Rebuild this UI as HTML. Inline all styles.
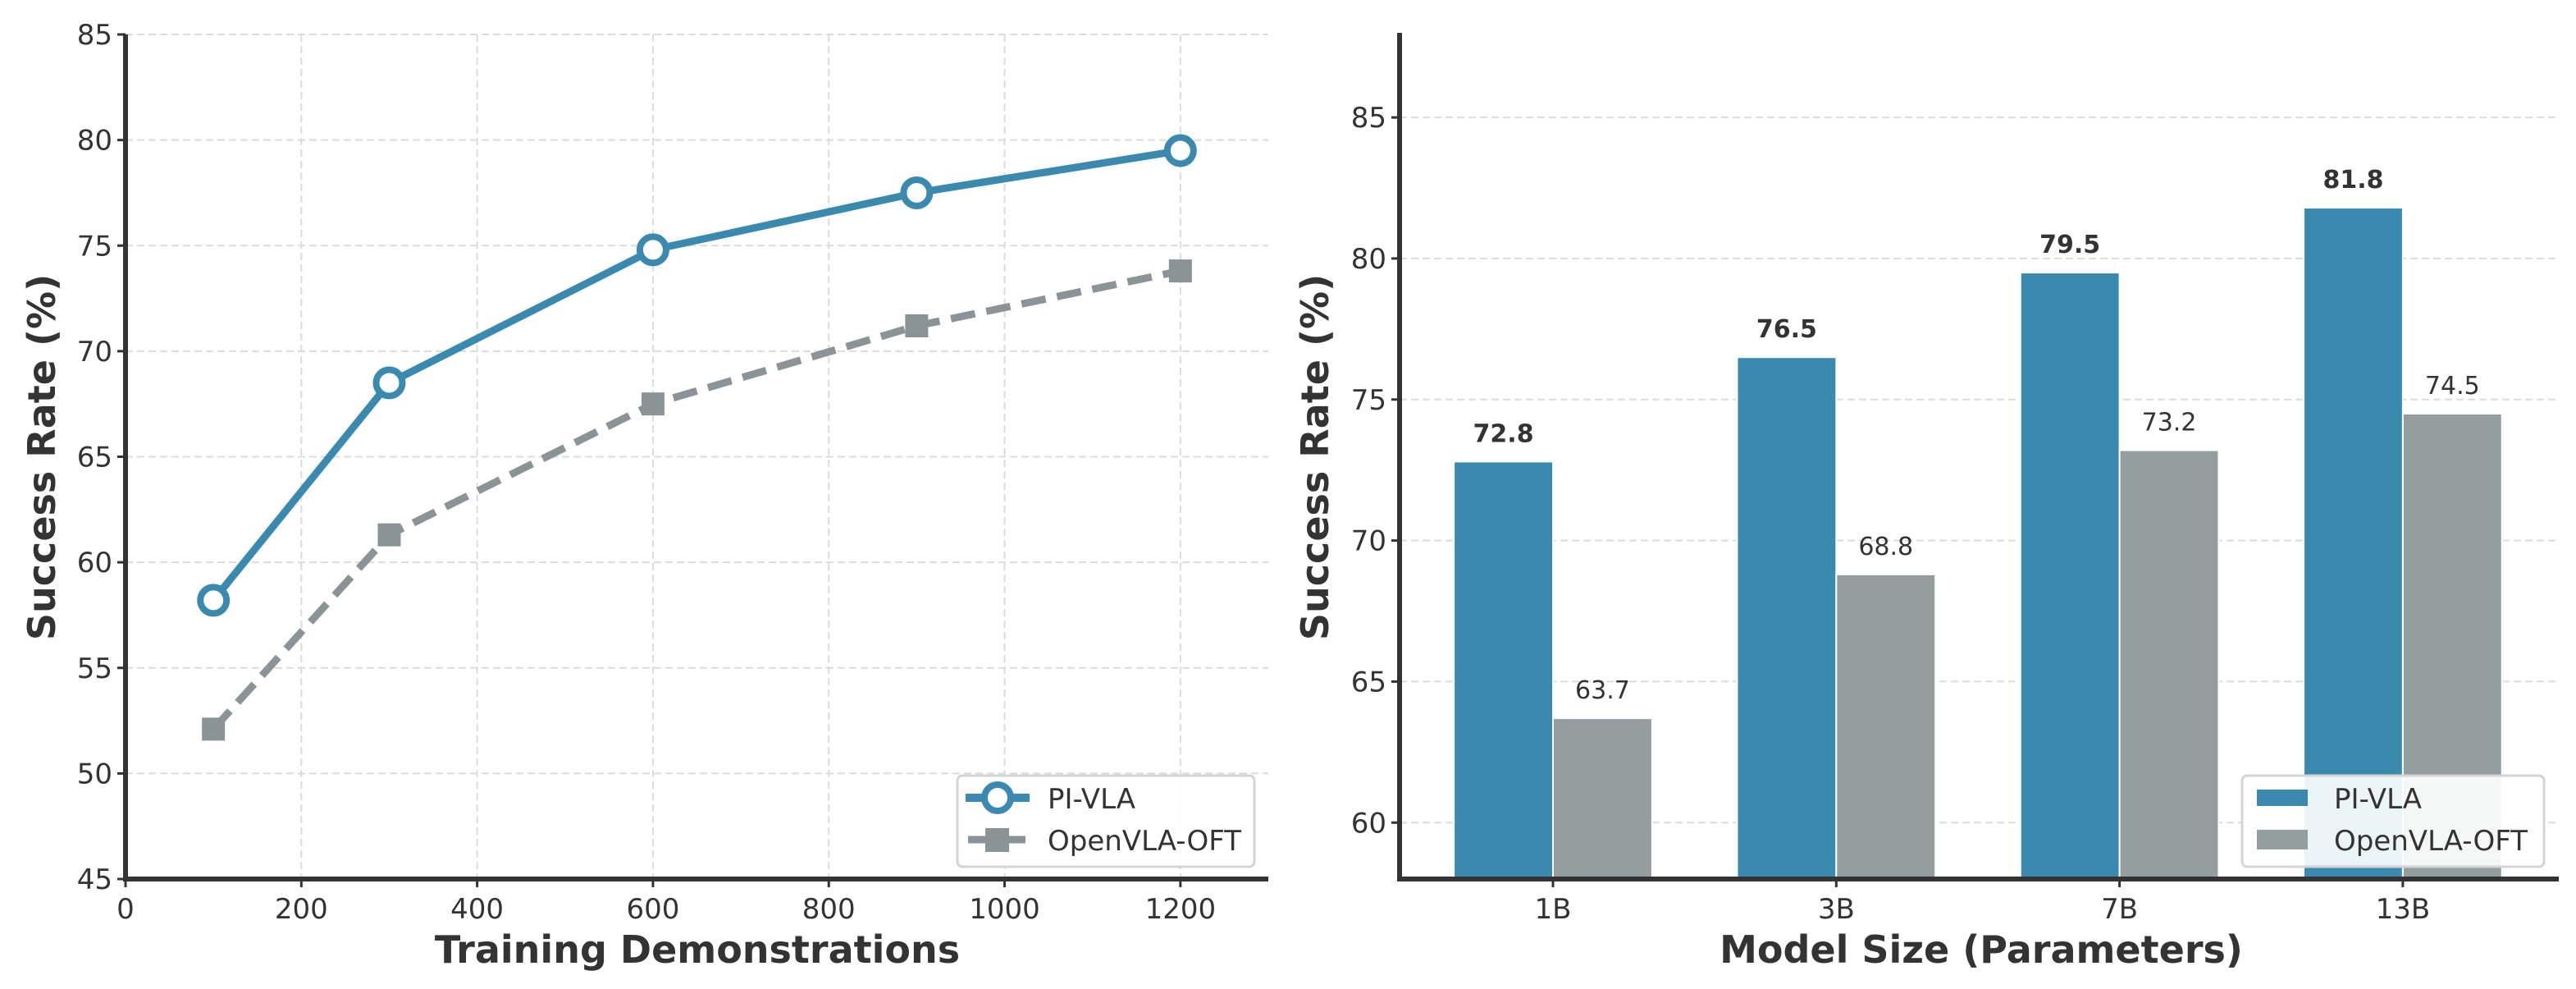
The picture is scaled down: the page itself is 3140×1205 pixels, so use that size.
<!DOCTYPE html>
<html><head><meta charset="utf-8">
<style>
html,body{margin:0;padding:0;background:#fff;}
svg{display:block;}
text{font-family:"DejaVu Sans","Liberation Sans",sans-serif;fill:#333;}
</style></head>
<body>
<svg id="fig" width="3140" height="1205" viewBox="0 0 3140 1205" xmlns="http://www.w3.org/2000/svg"></svg>
<script>
// Left chart data
const demoX = [100, 300, 600, 900, 1200];
const piVlaLine = [58.2, 68.5, 74.8, 77.5, 79.5];
const openVlaLine = [52.1, 61.3, 67.5, 71.2, 73.8];
const leftXTicks = [0, 200, 400, 600, 800, 1000, 1200];
const leftYTicks = [45, 50, 55, 60, 65, 70, 75, 80, 85];
// Right chart data
const modelSizes = ["1B", "3B", "7B", "13B"];
const piVlaBars = [72.8, 76.5, 79.5, 81.8];
const openVlaBars = [63.7, 68.8, 73.2, 74.5];
const rightYTicks = [60, 65, 70, 75, 80, 85];

const NS = "http://www.w3.org/2000/svg";
const svg = document.getElementById('fig');
function mk(tag, attrs, parent){
  const e = document.createElementNS(NS, tag);
  for (const k in attrs) e.setAttribute(k, attrs[k]);
  (parent||svg).appendChild(e);
  return e;
}
const BLUE = "#3a8ab0", GRAY = "#8a9496", GRAYBAR = "#949e9e", DARK = "#333";

// ---------- Left chart ----------
const L = {x0:153, x1:1546, y0:1071, y1:42, xmin:0, xmax:1300, ymin:45, ymax:85};
const lx = v => L.x0 + (v - L.xmin) / (L.xmax - L.xmin) * (L.x1 - L.x0);
const ly = v => L.y0 - (v - L.ymin) / (L.ymax - L.ymin) * (L.y0 - L.y1);

const lg = mk('g', {});


leftXTicks.forEach(t => {
  const gl = mk('line', {x1:lx(t), x2:lx(t), y1:L.y1, y2:L.y0, stroke:"#dcdcdc", 'stroke-width':2, 'stroke-dasharray':"9,5"}, lg);
  
  
  mk('line', {x1:lx(t), x2:lx(t), y1:L.y0, y2:L.y0+10, stroke:DARK, 'stroke-width':3}, lg);
  const tx = mk('text', {x:lx(t), y:L.y0+48, 'text-anchor':'middle', 'font-size':34}, lg);
  tx.textContent = t;
  
  
});
leftYTicks.forEach(t => {
  const gl = mk('line', {x1:L.x0, x2:L.x1, y1:ly(t), y2:ly(t), stroke:"#dcdcdc", 'stroke-width':2, 'stroke-dasharray':"9,5"}, lg);
  
  
  mk('line', {x1:L.x0-10, x2:L.x0, y1:ly(t), y2:ly(t), stroke:DARK, 'stroke-width':3}, lg);
  const tx = mk('text', {x:L.x0-16, y:ly(t)+12, 'text-anchor':'end', 'font-size':34}, lg);
  tx.textContent = t;
  
  
});
// OpenVLA line
const op = mk('polyline', {points: demoX.map((x,i)=>lx(x)+','+ly(openVlaLine[i])).join(' '), fill:'none', stroke:GRAY, 'stroke-width':9, 'stroke-dasharray':"30,14"}, lg);


demoX.forEach((x,i) => {
  const m = mk('rect', {x:lx(x)-14, y:ly(openVlaLine[i])-14, width:28, height:28, fill:GRAY}, lg);
  
  
});
const pl = mk('polyline', {points: demoX.map((x,i)=>lx(x)+','+ly(piVlaLine[i])).join(' '), fill:'none', stroke:BLUE, 'stroke-width':9, 'stroke-linejoin':'round'}, lg);


demoX.forEach((x,i) => {
  const m = mk('circle', {cx:lx(x), cy:ly(piVlaLine[i]), r:16, fill:'#fff', stroke:BLUE, 'stroke-width':8}, lg);
  
  
});
mk('line', {x1:L.x0, x2:L.x0, y1:L.y1, y2:L.y0+3, stroke:DARK, 'stroke-width':6}, lg);
mk('line', {x1:L.x0-3, x2:L.x1, y1:L.y0, y2:L.y0, stroke:DARK, 'stroke-width':6}, lg);
// legend left
const leg1 = mk('g', {}, lg);


mk('rect', {x:1167, y:945, width:362, height:111, rx:6, fill:'rgba(255,255,255,0.9)', stroke:'#d4d4d4', 'stroke-width':3}, leg1);
mk('line', {x1:1177, x2:1255, y1:972, y2:972, stroke:BLUE, 'stroke-width':10}, leg1);
mk('circle', {cx:1216, cy:972, r:16, fill:'#fff', stroke:BLUE, 'stroke-width':8}, leg1);
let t1 = mk('text', {x:1277, y:985, 'font-size':34}, leg1); t1.textContent = 'PI-VLA';
mk('line', {x1:1180, x2:1250, y1:1023, y2:1023, stroke:GRAY, 'stroke-width':9}, leg1);
mk('rect', {x:1201, y:1009, width:29, height:29, fill:GRAY}, leg1);
let t2 = mk('text', {x:1277, y:1036, 'font-size':34}, leg1); t2.textContent = 'OpenVLA-OFT';
// axis titles
const lxt = mk('text', {x:850, y:1173, 'text-anchor':'middle', 'font-size':46, 'font-weight':'bold'}, lg);
lxt.textContent = 'Training Demonstrations';


const lyt = mk('text', {x:0, y:0, 'text-anchor':'middle', 'font-size':46, 'font-weight':'bold', transform:'translate(67,557) rotate(-90)'}, lg);
lyt.textContent = 'Success Rate (%)';



// ---------- Right chart ----------
const R = {x0:1706, x1:3119, y0:1071, y1:40, ymin:58, ymax:88};
const ry = v => R.y0 - (v - R.ymin) / (R.ymax - R.ymin) * (R.y0 - R.y1);
const unit = 345.3, c0 = 1893, bw = 0.35*unit;
const rx = i => c0 + i*unit;
const rg = mk('g', {});


rightYTicks.forEach(t => {
  const gl = mk('line', {x1:R.x0, x2:R.x1, y1:ry(t), y2:ry(t), stroke:"#dcdcdc", 'stroke-width':2, 'stroke-dasharray':"9,5"}, rg);
  
  
  mk('line', {x1:R.x0-10, x2:R.x0, y1:ry(t), y2:ry(t), stroke:DARK, 'stroke-width':3}, rg);
  const tx = mk('text', {x:R.x0-16, y:ry(t)+12, 'text-anchor':'end', 'font-size':34}, rg);
  tx.textContent = t;
  
  
});
modelSizes.forEach((m,i) => {
  const b1 = mk('rect', {x:rx(i)-bw, y:ry(piVlaBars[i]), width:bw, height:R.y0-ry(piVlaBars[i]), fill:BLUE, stroke:'#fff', 'stroke-width':2}, rg);
  
  
  const b2 = mk('rect', {x:rx(i), y:ry(openVlaBars[i]), width:bw, height:R.y0-ry(openVlaBars[i]), fill:GRAYBAR, stroke:'#fff', 'stroke-width':2}, rg);
  
  
  const l1 = mk('text', {x:rx(i)-bw/2, y:ry(piVlaBars[i])-24, 'text-anchor':'middle', 'font-size':30, 'font-weight':'bold'}, rg);
  l1.textContent = piVlaBars[i].toFixed(1);
  
  
  const l2 = mk('text', {x:rx(i)+bw/2, y:ry(openVlaBars[i])-24, 'text-anchor':'middle', 'font-size':30}, rg);
  l2.textContent = openVlaBars[i].toFixed(1);
  
  
  mk('line', {x1:rx(i), x2:rx(i), y1:R.y0, y2:R.y0+10, stroke:DARK, 'stroke-width':3}, rg);
  const tx = mk('text', {x:rx(i), y:R.y0+48, 'text-anchor':'middle', 'font-size':34}, rg);
  tx.textContent = m;
  
  
});
mk('line', {x1:R.x0, x2:R.x0, y1:R.y1, y2:R.y0+3, stroke:DARK, 'stroke-width':6}, rg);
mk('line', {x1:R.x0-3, x2:R.x1, y1:R.y0, y2:R.y0, stroke:DARK, 'stroke-width':6}, rg);
const leg2 = mk('g', {}, rg);


mk('rect', {x:2733, y:945, width:368, height:111, rx:6, fill:'rgba(255,255,255,0.9)', stroke:'#d4d4d4', 'stroke-width':3}, leg2);
mk('rect', {x:2751, y:962, width:62, height:20, fill:BLUE}, leg2);
let t3 = mk('text', {x:2845, y:985, 'font-size':34}, leg2); t3.textContent = 'PI-VLA';
mk('rect', {x:2751, y:1011, width:62, height:24, fill:GRAYBAR}, leg2);
let t4 = mk('text', {x:2845, y:1036, 'font-size':34}, leg2); t4.textContent = 'OpenVLA-OFT';
const rxt = mk('text', {x:2415, y:1173, 'text-anchor':'middle', 'font-size':46, 'font-weight':'bold'}, rg);
rxt.textContent = 'Model Size (Parameters)';


const ryt = mk('text', {x:0, y:0, 'text-anchor':'middle', 'font-size':46, 'font-weight':'bold', transform:'translate(1619,557) rotate(-90)'}, rg);
ryt.textContent = 'Success Rate (%)';


</script>
</body></html>
